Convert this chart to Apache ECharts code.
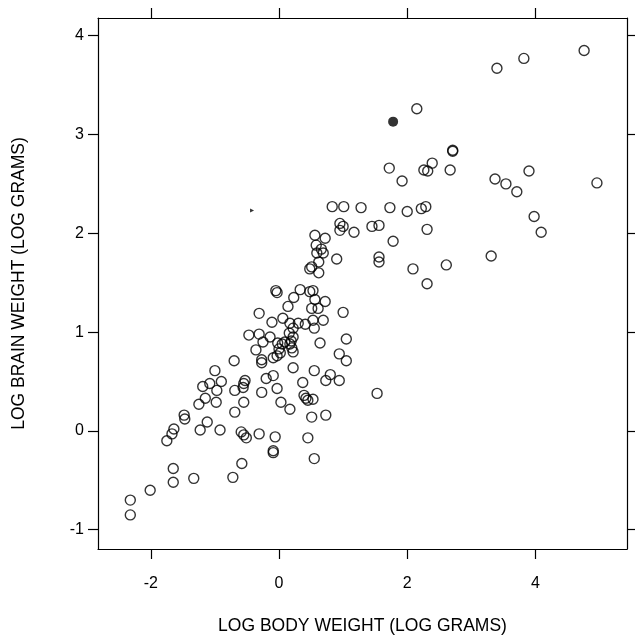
<!DOCTYPE html>
<html>
<head>
<meta charset="utf-8">
<script src="https://cdn.jsdelivr.net/npm/echarts@6/dist/echarts.min.js"></script>
<style>
html,body{margin:0;padding:0;background:#fff;}
#chart{width:635px;height:635px;}
</style>
</head>
<body>
<div id="chart"></div>
<script>
// Log body weight (x) and log brain weight (y), open circles
const logBody = [
-2.32,-2.32,-2.01,-1.65,-1.65,-1.33,-1.75,-1.67,-1.64,-1.48,-1.47,-1.23,-1.12,-1.25,-1.15,-1.19,-1.08,-0.98,-0.97,-0.92,
-0.90,-1.00,-0.70,-0.69,-0.56,-0.53,-0.55,-0.69,-0.55,-0.59,-0.55,-0.51,-0.31,-0.06,-0.09,-0.09,-0.58,-0.72,-0.27,-0.03,
0.03,0.17,-0.20,-0.09,-0.27,-0.27,-0.09,-0.36,-0.47,-0.31,-0.14,-0.25,-0.31,-0.11,0.06,0.14,0.23,0.33,-0.05,-0.03,
0.48,0.53,0.56,0.72,0.51,0.61,0.53,0.69,0.17,0.30,0.41,0.55,0.22,0.16,0.22,0.19,0.17,-0.02,0.05,0.09,
0.00,0.02,-0.03,0.20,0.22,0.64,1.05,0.94,1.05,0.22,0.55,0.80,0.73,0.94,0.37,0.39,0.42,0.45,0.53,1.53,
0.51,0.73,0.45,0.55,1.00,0.95,1.00,0.95,1.17,1.45,1.56,0.56,0.72,0.58,0.66,0.69,0.59,0.62,0.90,0.51,
0.48,0.62,1.56,1.56,0.83,1.01,1.28,1.73,2.00,2.22,2.29,2.31,1.78,2.09,2.31,1.92,1.72,2.26,2.32,2.39,
2.67,2.71,2.71,2.15,3.37,3.54,3.71,3.90,4.96,3.98,4.09,2.61,3.31,3.40,3.82,4.76
];
const logBrain = [
-0.85,-0.70,-0.60,-0.38,-0.52,-0.48,-0.10,-0.03,0.02,0.16,0.12,0.01,0.09,0.27,0.33,0.45,0.48,0.29,0.41,0.01,
0.50,0.61,0.71,0.41,0.44,0.51,0.48,0.19,0.29,-0.01,-0.04,-0.07,-0.03,-0.06,-0.20,-0.22,-0.33,-0.47,0.39,0.43,
0.29,0.22,0.53,0.56,0.72,0.69,0.74,0.82,0.97,0.98,0.95,0.90,1.19,1.10,1.14,1.26,1.35,1.43,1.42,1.40,
1.41,1.42,1.33,1.31,1.24,1.24,1.12,1.12,1.09,1.09,1.08,1.04,1.04,0.99,0.95,0.91,0.88,0.89,0.88,0.90,
0.83,0.79,0.76,0.84,0.80,0.89,0.93,0.78,0.71,0.64,0.61,0.57,0.51,0.51,0.49,0.36,0.33,0.31,0.32,0.38,
0.14,0.16,-0.07,-0.28,1.20,2.10,2.07,2.03,2.01,2.07,2.08,1.98,1.95,1.88,1.84,1.80,1.80,1.71,1.74,1.66,
1.64,1.60,1.76,1.71,2.27,2.27,2.26,2.26,2.22,2.25,2.27,2.04,1.92,1.64,1.49,2.53,2.66,2.64,2.63,2.71,
2.64,2.84,2.83,3.26,2.55,2.50,2.42,2.63,2.51,2.17,2.01,1.68,1.77,3.67,3.77,3.85
];
// Highlighted (filled) point
const filledBody = [1.78];
const filledBrain = [3.13];
// Small stray mark
const markBody = [-0.42];
const markBrain = [2.23];
// Tick labels
const xTicks = [-2, 0, 2, 4];
const yTicks = [-1, 0, 1, 2, 3, 4];

const xMin = -2.824, xMax = 5.429, yMin = -1.195, yMax = 4.179;
const font = '"Liberation Sans", Arial, Helvetica, sans-serif';

const openData = logBody.map((v, i) => [v, logBrain[i]]);
const filledData = filledBody.map((v, i) => [v, filledBrain[i]]);
const markData = markBody.map((v, i) => [v, markBrain[i]]);

const lineStyle = { color: '#000', width: 1.2 };
function xAxisDef(pos, labels) {
  return {
    type: 'value', position: pos, min: xMin, max: xMax,
    axisLine: { show: true, onZero: false, lineStyle: lineStyle },
    axisTick: { show: true, inside: false, length: 10, customValues: xTicks, lineStyle: lineStyle },
    axisLabel: { show: labels, customValues: xTicks, margin: 27, color: '#000', fontSize: 16, fontFamily: font },
    splitLine: { show: false },
    name: labels ? 'LOG BODY WEIGHT (LOG GRAMS)' : '',
    nameLocation: 'middle', nameGap: 68,
    nameTextStyle: { color: '#000', fontSize: 17.5, fontFamily: font }
  };
}
function yAxisDef(pos, labels) {
  return {
    type: 'value', position: pos, min: yMin, max: yMax,
    axisLine: { show: true, onZero: false, lineStyle: lineStyle },
    axisTick: { show: true, inside: false, length: 10, customValues: yTicks, lineStyle: lineStyle },
    axisLabel: { show: labels, customValues: yTicks, margin: 14, color: '#000', fontSize: 16, fontFamily: font },
    splitLine: { show: false },
    name: labels ? 'LOG BRAIN WEIGHT (LOG GRAMS)' : '',
    nameLocation: 'middle', nameGap: 70, nameRotate: 90,
    nameTextStyle: { color: '#000', fontSize: 17.5, fontFamily: font }
  };
}

const chart = echarts.init(document.getElementById('chart'), null, { renderer: 'canvas' });
chart.setOption({
  backgroundColor: '#fff',
  animation: false,
  grid: { left: 98, right: 8, top: 18, bottom: 86, containLabel: false, outerBoundsMode: 'none' },
  xAxis: [xAxisDef('bottom', true), xAxisDef('top', false)],
  yAxis: [yAxisDef('left', true), yAxisDef('right', false)],
  series: [
    {
      type: 'scatter', data: openData, symbol: 'circle', symbolSize: 10,
      itemStyle: { color: 'rgba(0,0,0,0)', borderColor: '#000', borderWidth: 1.4 }
    },
    {
      type: 'scatter', data: filledData, symbol: 'circle', symbolSize: 10,
      itemStyle: { color: '#000', borderWidth: 0 }
    },
    {
      type: 'scatter', data: markData, symbol: 'triangle', symbolSize: 4, symbolRotate: -90,
      itemStyle: { color: '#000' }
    }
  ]
});
</script>
</body>
</html>
